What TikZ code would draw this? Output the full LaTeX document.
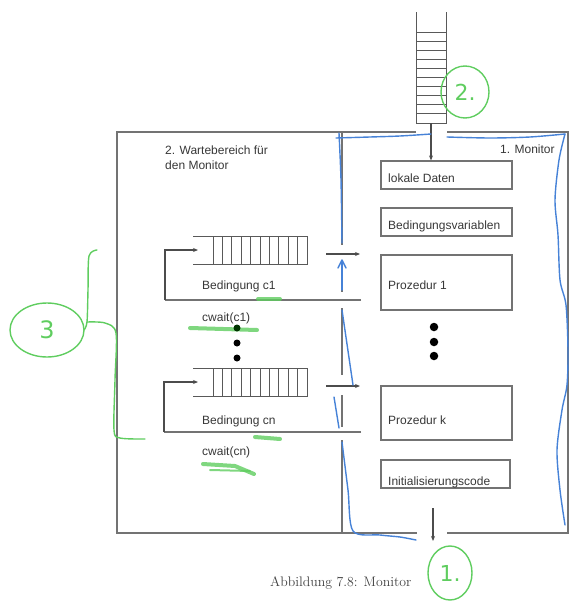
\documentclass[tikz,border=0pt]{standalone}
\usepackage{fontspec}
\newfontfamily\diagfont{Liberation Sans}
\newfontfamily\handfont{DejaVu Sans}
\usetikzlibrary{arrows.meta}
\definecolor{ln}{RGB}{115,115,115}
\definecolor{tx}{RGB}{55,55,55}
\definecolor{pen}{RGB}{70,130,215}
\definecolor{grn}{RGB}{95,205,95}
\tikzset{
  ln/.style={draw=ln,line width=1.2pt},
  arr/.style={ln,-{Stealth[length=5pt,width=4pt]},black!70},
  box/.style={ln,minimum width=131pt,inner sep=0pt},
  ghost/.style={inner sep=0pt,outer sep=0pt},
  lbl/.style={anchor=base west,inner sep=0pt,text=tx,font=\diagfont\fontsize{12}{14}\selectfont},
  bluepen/.style={draw=pen,line width=1.4pt,line cap=round,line join=round},
  greenpen/.style={draw=grn,line width=1.4pt,line cap=round,line join=round},
  greenmark/.style={draw=grn,line width=4pt,line cap=round,opacity=0.8},
  dot/.style={circle,fill=black,inner sep=0pt},
}
\begin{document}
\begin{tikzpicture}[x=1pt,y=-1pt]
\useasboundingbox (0,0) rectangle (585,613);

% outer frame
\draw[ln] (416,132) -- (117,132) -- (117,533) -- (417,533);
\draw[ln] (447,132) -- (568,132) -- (568,533) -- (447,533);
% divider
\foreach \a/\b in {132/245,262/292,308/375,395/427,440/533}
  \draw[ln] (342,\a) -- (342,\b);

% top entry queue
\node[ghost,minimum width=30pt,minimum height=111pt] (tq) at (431,67.5) {};
\draw[line width=1pt,black!65] (tq.north west) -- (tq.south west) -- (tq.south east) -- (tq.north east);
\foreach \k in {0,...,9}
  \draw[line width=1pt,black!65] (416,{32+9.1*\k}) -- (446,{32+9.1*\k});

% monitor boxes
\node[box,minimum height=28pt] (ld) at (446.5,175) {};
\node[box,minimum height=28pt] (bv) at (446.5,222) {};
\node[box,minimum height=55pt] (p1) at (446.5,282.5) {};
\node[box,minimum height=54pt] (pk) at (446.5,413) {};
\node[box,minimum width=129pt,minimum height=28pt] (ic) at (445.5,474) {};

\draw[arr] (tq.south) -- (tq.south |- ld.north);

\node[lbl] (tld) at (388,182) {lokale Daten};
\node[lbl] (tbv) at (388,229) {Bedingungsvariablen};
\node[lbl] (tp1) at (388,289) {Prozedur 1};
\node[lbl] (tpk) at (388,424) {Prozedur k};
\node[lbl] (tic) at (388,485) {Initialisierungscode};
\node[lbl] (tmon) at (500,153) {1. Monitor};
\node[lbl] (tw1) at (165,154) {2. Wartebereich für};
\node[lbl] (tw2) at (165,169) {den Monitor};

% dots between procedures
\foreach \y [count=\i] in {327,342,356}
  \node[dot,minimum size=8.5pt] (rd\i) at (434,\y) {};

% exit arrow
\coordinate (ex1) at (433,508);
\coordinate (ex2) at (433,541);
\draw[arr] (ex1) -- (ex2);

% condition queues
\foreach \n/\yc in {1/250,n/382} {
  \node[ghost,minimum width=114pt,minimum height=28pt] (q\n) at (250,\yc) {};
  \draw[line width=1pt,black!65] (q\n.north west) -- (q\n.north east) -- (q\n.south east) -- (q\n.south west);
  \foreach \k in {0,...,9}
    \draw[line width=1pt,black!65] ({213+9.4*\k},\yc-14) -- ({213+9.4*\k},\yc+14);
}
% loops back into queues
\coordinate (l1e) at (361,300);
\coordinate (l1c) at (165,300);
\draw[ln] (l1e) -- (l1c);
\draw[arr] (l1c) |- ([xshift=5pt]q1.west);
\coordinate (lne) at (361,432);
\coordinate (lnc) at (164,432);
\draw[ln] (lne) -- (lnc);
\draw[arr] (lnc) |- ([xshift=5pt]qn.west);
% arrows into the monitor
\coordinate (a1s) at (326,254);
\coordinate (a1e) at (360,254);
\draw[arr] (a1s) -- (a1e);
\coordinate (ans) at (326,386);
\coordinate (ane) at (360,386);
\draw[arr] (ans) -- (ane);

\node[lbl] (tb1) at (202,289) {Bedingung c1};
\node[lbl] (tc1) at (202,321) {cwait(c1)};
\node[lbl] (tbn) at (202,424) {Bedingung cn};
\node[lbl] (tcn) at (202,455) {cwait(cn)};

% green marks
\draw[greenmark] (258,299) -- (280,299);
\draw[greenmark] (190,328) -- (257,330);
\draw[greenmark] (255,437) -- (280,439);
\draw[greenmark] (203,464) -- (235,466) -- (254,474);
\draw[greenmark,line width=2pt] (210,470) -- (250,471);

% dots between conditions
\node[dot,minimum size=7pt,fill=black!80!green] (ld1) at (237,328) {};
\node[dot,minimum size=7pt] (ld2) at (237,343) {};
\node[dot,minimum size=7pt] (ld3) at (237,358) {};

% caption
\node[anchor=base west,inner sep=0pt,text=black!75,font=\fontsize{13.8}{16}\selectfont] (cap) at (270,586) {Abbildung 7.8: Monitor};

% blue pen
\draw[bluepen] plot[smooth] coordinates {(336,138) (370,137) (400,136) (431,134)};
\draw[bluepen] plot[smooth] coordinates {(447,137) (490,138) (530,137) (565,134)};
\draw[bluepen] plot[smooth] coordinates {(565,134) (559,160) (555,200) (558,235) (560,280) (566,305) (568,350) (567,385) (562,410) (557,450) (560,490) (565,525)};
\draw[bluepen] plot[smooth] coordinates {(339,133) (341,180) (342,243)};
\draw[bluepen] (338,268) -- (342,260) -- (346,268);
\draw[bluepen] (342,262) -- (342,290);
\draw[bluepen] (342,310) -- (353,385);
\draw[bluepen] (334,397) -- (339,428);
\draw[bluepen] plot[smooth] coordinates {(342,442) (348,490) (353,531) (380,535) (400,537) (416,540)};

% green annotations
\draw[greenpen] (465,92) ellipse [x radius=24, y radius=26];
\node[text=grn,font=\handfont\fontsize{22}{22}\selectfont] (g2) at (465,92) {2.};
\draw[greenpen] (450,573) ellipse [x radius=22, y radius=27];
\node[text=grn,font=\handfont\fontsize{22}{22}\selectfont] (g1) at (450,573) {1.};
\draw[greenpen] (47,330) ellipse [x radius=37, y radius=27];
\node[text=grn,font=\handfont\fontsize{24}{24}\selectfont] (g3) at (47,330) {3};
\draw[greenpen] plot[smooth] coordinates {(97,250) (89,256) (88,290) (87,322) (84,330)};
\draw[greenpen] plot[smooth] coordinates {(87,322) (105,323) (116,333) (115,380) (114,430) (120,438) (145,439)};
\end{tikzpicture}
\end{document}
